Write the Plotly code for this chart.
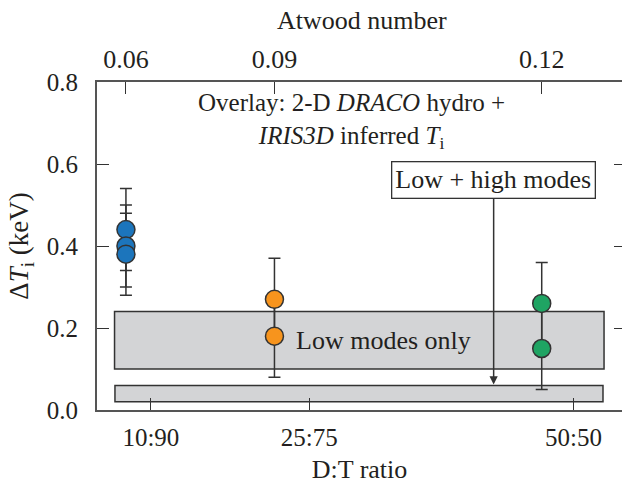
import plotly.graph_objects as go

# D fraction (%) of each measured shot group, used as the horizontal coordinate
blue_x = [7.64, 7.64, 7.64]
blue_y = [0.44, 0.40, 0.38]
orange_x = [21.7, 21.7]
orange_y = [0.27, 0.18]
green_x = [47.0, 47.0]
green_y = [0.26, 0.15]
err = 0.10

# bottom axis: D:T ratio
dt_ticks = [10, 25, 50]
dt_labels = ["10:90", "25:75", "50:50"]
# top axis: Atwood number of each shot group
atwood_pos = [blue_x[0], orange_x[0], green_x[0]]
atwood_labels = ["0.06", "0.09", "0.12"]

# simulation bands (x extent, y extent)
low_modes_band = dict(x=[6.56, 52.9], y=[0.10, 0.24])
low_high_band = dict(x=[6.6, 52.8], y=[0.02, 0.06])

FONT = "Liberation Serif"
INK = "#231f20"
AXIS = "#555555"
XR = [4.9, 54.6]

fig = go.Figure()

def add_series(xs, ys, color):
    fig.add_trace(go.Scatter(
        x=xs, y=ys, mode="markers",
        marker=dict(size=18, color=color, line=dict(color="#333333", width=1.5)),
        error_y=dict(type="constant", value=err, color="#333333", thickness=1.5, width=6),
        showlegend=False, xaxis="x", yaxis="y",
    ))

add_series(blue_x, blue_y, "#1c75bc")
add_series(orange_x, orange_y, "#f7941d")
add_series(green_x, green_y, "#1fa463")

for band in (low_modes_band, low_high_band):
    fig.add_shape(type="rect", xref="x", yref="y",
                  x0=band["x"][0], x1=band["x"][1], y0=band["y"][0], y1=band["y"][1],
                  fillcolor="#d3d4d6", line=dict(color="#333333", width=1.5), layer="below")

# empty traces that bring the secondary axes to life
fig.add_trace(go.Scatter(x=[None], y=[None], xaxis="x2", yaxis="y", showlegend=False))
fig.add_trace(go.Scatter(x=[None], y=[None], xaxis="x", yaxis="y2", showlegend=False))

tickfont = dict(family=FONT, size=25, color=INK)

fig.update_layout(
    width=622, height=485,
    margin=dict(l=97, r=0, t=82, b=75),
    plot_bgcolor="white", paper_bgcolor="white",
    showlegend=False,
    xaxis=dict(
        range=XR, tickmode="array", tickvals=dt_ticks, ticktext=dt_labels,
        ticks="inside", ticklen=12, tickwidth=1.3, tickcolor="#333333",
        showline=True, linecolor=AXIS, linewidth=2, showgrid=False, zeroline=False,
        tickfont=tickfont, ticklabelstandoff=4,
        title=dict(text="D:T ratio", font=dict(family=FONT, size=26, color=INK), standoff=10),
    ),
    xaxis2=dict(
        range=XR, overlaying="x", side="top", tickmode="array",
        tickvals=atwood_pos, ticktext=atwood_labels,
        ticks="inside", ticklen=12, tickwidth=1.3, tickcolor="#333333",
        showline=True, linecolor=AXIS, linewidth=2, showgrid=False, zeroline=False,
        tickfont=dict(family=FONT, size=26, color=INK), ticklabelstandoff=2,
    ),
    yaxis=dict(
        range=[0, 0.8], tickmode="array", tickvals=[0, 0.2, 0.4, 0.6, 0.8],
        ticktext=["0.0", "0.2", "0.4", "0.6", "0.8"],
        ticks="inside", ticklen=12, tickwidth=1.3, tickcolor="#333333",
        showline=True, linecolor=AXIS, linewidth=2, showgrid=False, zeroline=False,
        tickfont=tickfont, ticklabelstandoff=12,
        title=dict(text="Δ<i>T</i><sub>i</sub> (keV)", font=dict(family=FONT, size=27, color=INK), standoff=10),
    ),
    yaxis2=dict(
        range=[0, 0.8], overlaying="y", side="right", tickmode="array",
        tickvals=[0, 0.2, 0.4, 0.6, 0.8], showticklabels=False,
        ticks="inside", ticklen=8, tickwidth=1.3, tickcolor="#333333",
        showline=False, showgrid=False, zeroline=False,
    ),
)

fig.add_annotation(
    text="Atwood number", xref="paper", yref="paper",
    x=(362 - 97) / 525, y=1 + (82 - 20) / 328, yanchor="middle", showarrow=False,
    font=dict(family=FONT, size=26, color=INK),
)
fig.add_annotation(
    text="Overlay: 2-D <i>DRACO</i> hydro +<br><i>IRIS3D</i> inferred <i>T</i><sub>i</sub>",
    xref="x", yref="y", x=29.0, y=0.705, showarrow=False,
    font=dict(family=FONT, size=25, color=INK), align="center",
)
fig.add_annotation(
    text="Low modes only", xref="x", yref="y", x=32.0, y=0.17, showarrow=False,
    font=dict(family=FONT, size=26, color=INK),
)
fig.add_annotation(
    text="Low + high modes", xref="x", yref="y", x=42.45, y=0.06,
    showarrow=True, arrowhead=2, arrowsize=1.1, arrowwidth=1.5, arrowcolor="#333333",
    ax=0, ay=-205, standoff=1,
    bordercolor="#333333", borderwidth=1.3, borderpad=3, bgcolor="white",
    font=dict(family=FONT, size=26, color=INK),
)

fig.write_html("out.html")
